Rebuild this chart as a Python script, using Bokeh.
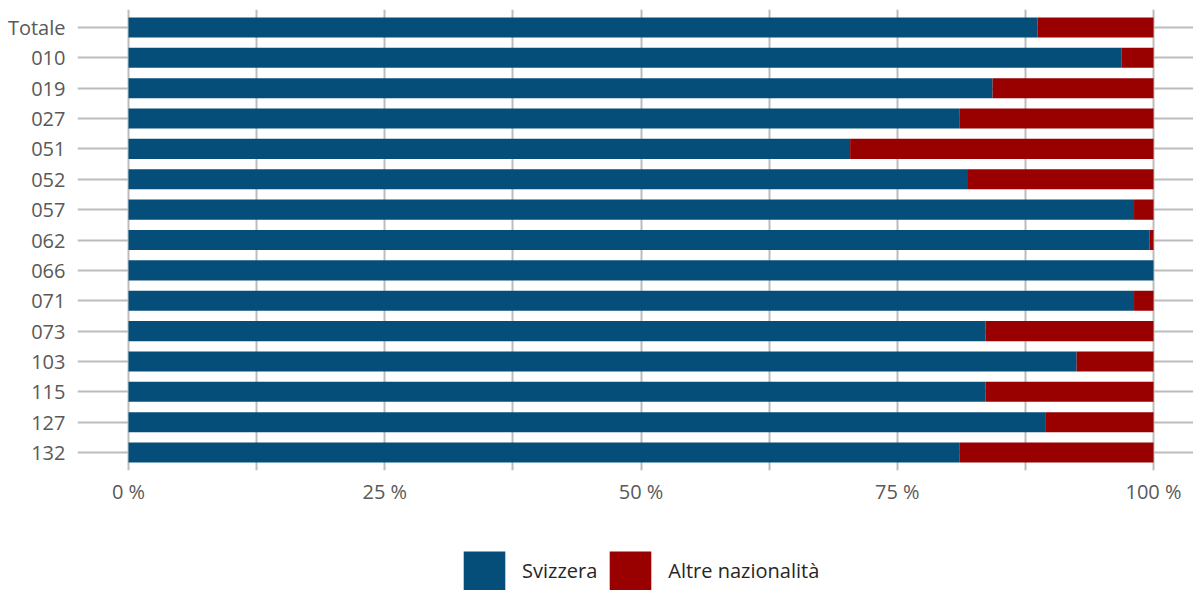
from bokeh.plotting import figure
from bokeh.layouts import column
from bokeh.models import (FactorRange, Range1d, FixedTicker, Legend, LegendItem,
                          ColumnDataSource)
from bokeh.embed import file_html
from bokeh.resources import INLINE

categories = ["Totale", "010", "019", "027", "051", "052", "057", "062", "066",
              "071", "073", "103", "115", "127", "132"]
svizzera = [88.7, 96.9, 84.3, 81.1, 70.4, 81.9, 98.1, 99.6, 100.0,
            98.1, 83.6, 92.5, 83.6, 89.5, 81.1]
altre = [11.3, 3.1, 15.7, 18.9, 29.6, 18.1, 1.9, 0.4, 0.0,
         1.9, 16.4, 7.5, 16.4, 10.5, 18.9]
series_names = ["Svizzera", "Altre nazionalità"]
series_colors = ["#064E7A", "#990000"]
x_ticks = [0, 25, 50, 75, 100]
x_minor = [12.5, 37.5, 62.5, 87.5]
x_tick_labels = ["0 %", "25 %", "50 %", "75 %", "100 %"]

FONT = "Open Sans"
GRID = "#bcbcbc"
W = 1193

source = ColumnDataSource(dict(cat=categories, svizzera=svizzera, altre=altre))

p = figure(
    width=W, height=515,
    y_range=FactorRange(factors=list(reversed(categories)),
                        range_padding=0.09, range_padding_units="absolute"),
    x_range=Range1d(-4.976, 103.90),
    output_backend="svg", toolbar_location=None,
    min_border_left=77, min_border_right=0, min_border_top=9, min_border_bottom=45,
)
p.outline_line_color = None
p.background_fill_color = "white"
p.border_fill_color = "white"

rs = p.hbar_stack(["svizzera", "altre"], y="cat", height=0.66, color=series_colors,
                  line_color=None, source=source)

# axes
p.xaxis.ticker = FixedTicker(ticks=x_ticks, minor_ticks=x_minor)
p.xaxis.major_label_overrides = {t: l for t, l in zip(x_ticks, x_tick_labels)}
for ax in (p.xaxis[0], p.yaxis[0]):
    ax.axis_line_color = None
    ax.major_tick_line_color = None
    ax.minor_tick_line_color = None
    ax.major_tick_out = 0
    ax.major_tick_in = 0
    ax.minor_tick_out = 0
    ax.minor_tick_in = 0
    ax.major_label_text_font = FONT
    ax.major_label_text_font_size = "20px"
    ax.major_label_text_color = "#595959"
p.xaxis.major_label_standoff = 7
p.yaxis.major_label_standoff = 12

# grids
p.xgrid.grid_line_color = GRID
p.xgrid.grid_line_width = 2
p.xgrid.minor_grid_line_color = GRID
p.xgrid.minor_grid_line_width = 2
p.ygrid.grid_line_color = GRID
p.ygrid.grid_line_width = 2

# legend strip underneath the chart (its bars lie outside its visible x range)
lp = figure(width=W, height=75, x_axis_type=None, y_axis_type=None,
            x_range=Range1d(-2000, -1999), y_range=FactorRange(factors=categories),
            output_backend="svg", toolbar_location=None,
            min_border_left=77, min_border_right=0, min_border_top=0, min_border_bottom=0)
lp.outline_line_color = None
lp.xgrid.visible = False
lp.ygrid.visible = False
lrs = lp.hbar_stack(["svizzera", "altre"], y="cat", height=0.66, color=series_colors,
                    line_color=None, source=source)

legend = Legend(
    items=[LegendItem(label=n, renderers=[r]) for n, r in zip(series_names, lrs)],
    orientation="horizontal", location=(381, -5),
    glyph_width=52, glyph_height=49, label_standoff=12, spacing=7,
    padding=0, margin=0, border_line_color=None, background_fill_alpha=0,
    label_text_font=FONT, label_text_font_size="20px", label_text_color="#262626",
)
lp.add_layout(legend, "center")

layout = column(p, lp, spacing=0)
open("out.html", "w").write(file_html(layout, INLINE))
